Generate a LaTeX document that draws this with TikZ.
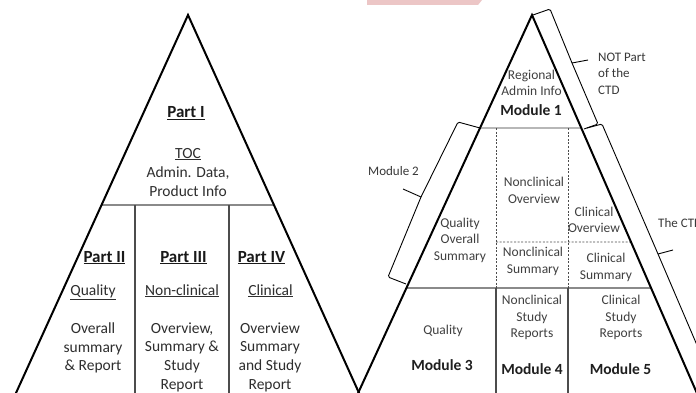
\documentclass[tikz,border=0pt]{standalone}
\usepackage{fontspec}
\setmainfont{Carlito}
\definecolor{pinkwm}{HTML}{ECC6C6}
\begin{document}
\begin{tikzpicture}[x=1pt,y=-1pt,
  outer/.style={line width=2pt,draw=black},
  inner/.style={line width=1.1pt,draw=black!70},
  thinl/.style={line width=0.9pt,draw=black!80},
  dsh/.style={line width=0.9pt,draw=black!70,dash pattern=on 2pt off 1.6pt},
  brc/.style={line width=0.9pt,draw=black,rounded corners=1.5pt,line join=round},
  lt/.style={font=\fontsize{15.5}{18.7}\selectfont,align=center,text=black!82,inner sep=0pt},
  hd/.style={font=\fontsize{17}{20}\selectfont\bfseries,text=black!90,inner sep=0pt,anchor=base},
  sub/.style={font=\fontsize{15.5}{18.7}\selectfont,text=black!82,inner sep=0pt,anchor=base},
  rt/.style={font=\fontsize{13.5}{16.5}\selectfont,align=center,text=black!75,inner sep=0pt},
  md/.style={font=\fontsize{15.5}{18}\selectfont\bfseries,text=black!88,inner sep=0pt},
  lab/.style={font=\fontsize{13}{16.5}\selectfont,align=left,text=black!78,inner sep=0pt}]
\useasboundingbox (0,0) rectangle (696,393);
\fill[white] (0,0) rectangle (696,393);
\clip (0,0) rectangle (696,393);
% watermark fragment
\fill[pinkwm] (367,0) -- (482,0) -- (478,5) -- (367,5) -- cycle;
% ---------- left triangle ----------
\coordinate (LA) at (188,15);
\coordinate (LL) at (12.8,400);
\coordinate (LR) at (362.2,400);
\coordinate (Ha) at (0,205);
\coordinate (Hb) at (400,205);
\draw[inner] (intersection of LA--LL and Ha--Hb) -- (intersection of LA--LR and Ha--Hb);
\draw[inner] (135,205) -- (135,400);
\draw[inner] (229,205) -- (229,400);
\draw[outer] (LL) -- (LA) -- (LR);
\node[hd] (p1) at (186,118) {\underline{Part I}};
\node[sub] (toc) at (188,158) {\underline{TOC}};
\node[lt] (adm) at (188,182) {Admin. Data,\\Product Info};
\node[hd] (p2) at (104.5,262) {\underline{Part II}};
\node[hd] (p3) at (183.5,262) {\underline{Part III}};
\node[hd] (p4) at (261.5,262) {\underline{Part IV}};
\node[sub] (q2) at (93,295) {\underline{Quality}};
\node[sub] (q3) at (182,295) {\underline{Non-clinical}};
\node[sub] (q4) at (270.5,295) {\underline{Clinical}};
\node[lt] (b2) at (93,348) {Overall\\summary\\\& Report};
\node[lt] (b3) at (182,357) {Overview,\\Summary \&\\Study\\Report};
\node[lt] (b4) at (270,357) {Overview\\Summary\\and Study\\Report};
% ---------- right triangle ----------
\coordinate (RA) at (532,15);
\coordinate (RL) at (354.9,400);
\coordinate (RR) at (699.9,400);
\coordinate (Ma) at (300,128);
\coordinate (Mb) at (720,128);
\coordinate (Da) at (300,242);
\coordinate (Db) at (720,242);
\coordinate (Sa) at (300,288);
\coordinate (Sb) at (720,288);
\draw[thinl] (intersection of RA--RL and Ma--Mb) -- (intersection of RA--RR and Ma--Mb);
\draw[dsh] (496,128) -- (496,288);
\draw[dsh] (568,128) -- (568,288);
\draw[dsh] (496,242) -- (intersection of RA--RR and Da--Db);
\draw[inner] (intersection of RA--RL and Sa--Sb) -- (intersection of RA--RR and Sa--Sb);
\draw[inner] (496,288) -- (496,400);
\draw[inner] (568,288) -- (568,400);
\draw[outer] (RL) -- (RA) -- (RR);
% braces
\draw[brc] (533,15) -- (550,9) -- (572,63) -- (598,124) -- (584,129);
\draw[brc] (572,63) -- (588,60);
\draw[brc] (587,128) -- (602,124) -- (658,254) -- (729,420);
\draw[brc] (658,254) -- (673,250);
\draw[brc] (480,128) -- (458,122) -- (421,197) -- (388,277) -- (406,284);
\draw[brc] (421,197) -- (403,189);
% right texts
\node[rt] (reg) at (531.5,83) {Regional\\Admin Info};
\node[md] (m1) at (531,110) {Module 1};
\node[rt] (nco) at (534,190.5) {Nonclinical\\Overview};
\node[rt] (qos) at (460,240) {Quality\\Overall\\Summary};
\node[rt] (clo) at (594,220) {Clinical\\Overview};
\node[rt] (ncs) at (533,261.5) {Nonclinical\\Summary};
\node[rt] (cls) at (606,267.5) {Clinical\\Summary};
\node[rt] (ncr) at (532,317.5) {Nonclinical\\Study\\Reports};
\node[rt] (clr) at (621,317.5) {Clinical\\Study\\Reports};
\node[rt] (qua) at (443,331) {Quality};
\node[md] (m3) at (442,365) {Module 3};
\node[md] (m4) at (532,369) {Module 4};
\node[md] (m5) at (620.5,369) {Module 5};
% labels
\node[lab,anchor=west] (notp) at (598,73.5) {NOT Part\\of the\\CTD};
\node[lab] (mod2) at (393.5,171) {Module 2};
\node[lab,anchor=west] (ctd) at (658,223) {The CTD};
\end{tikzpicture}
\end{document}
